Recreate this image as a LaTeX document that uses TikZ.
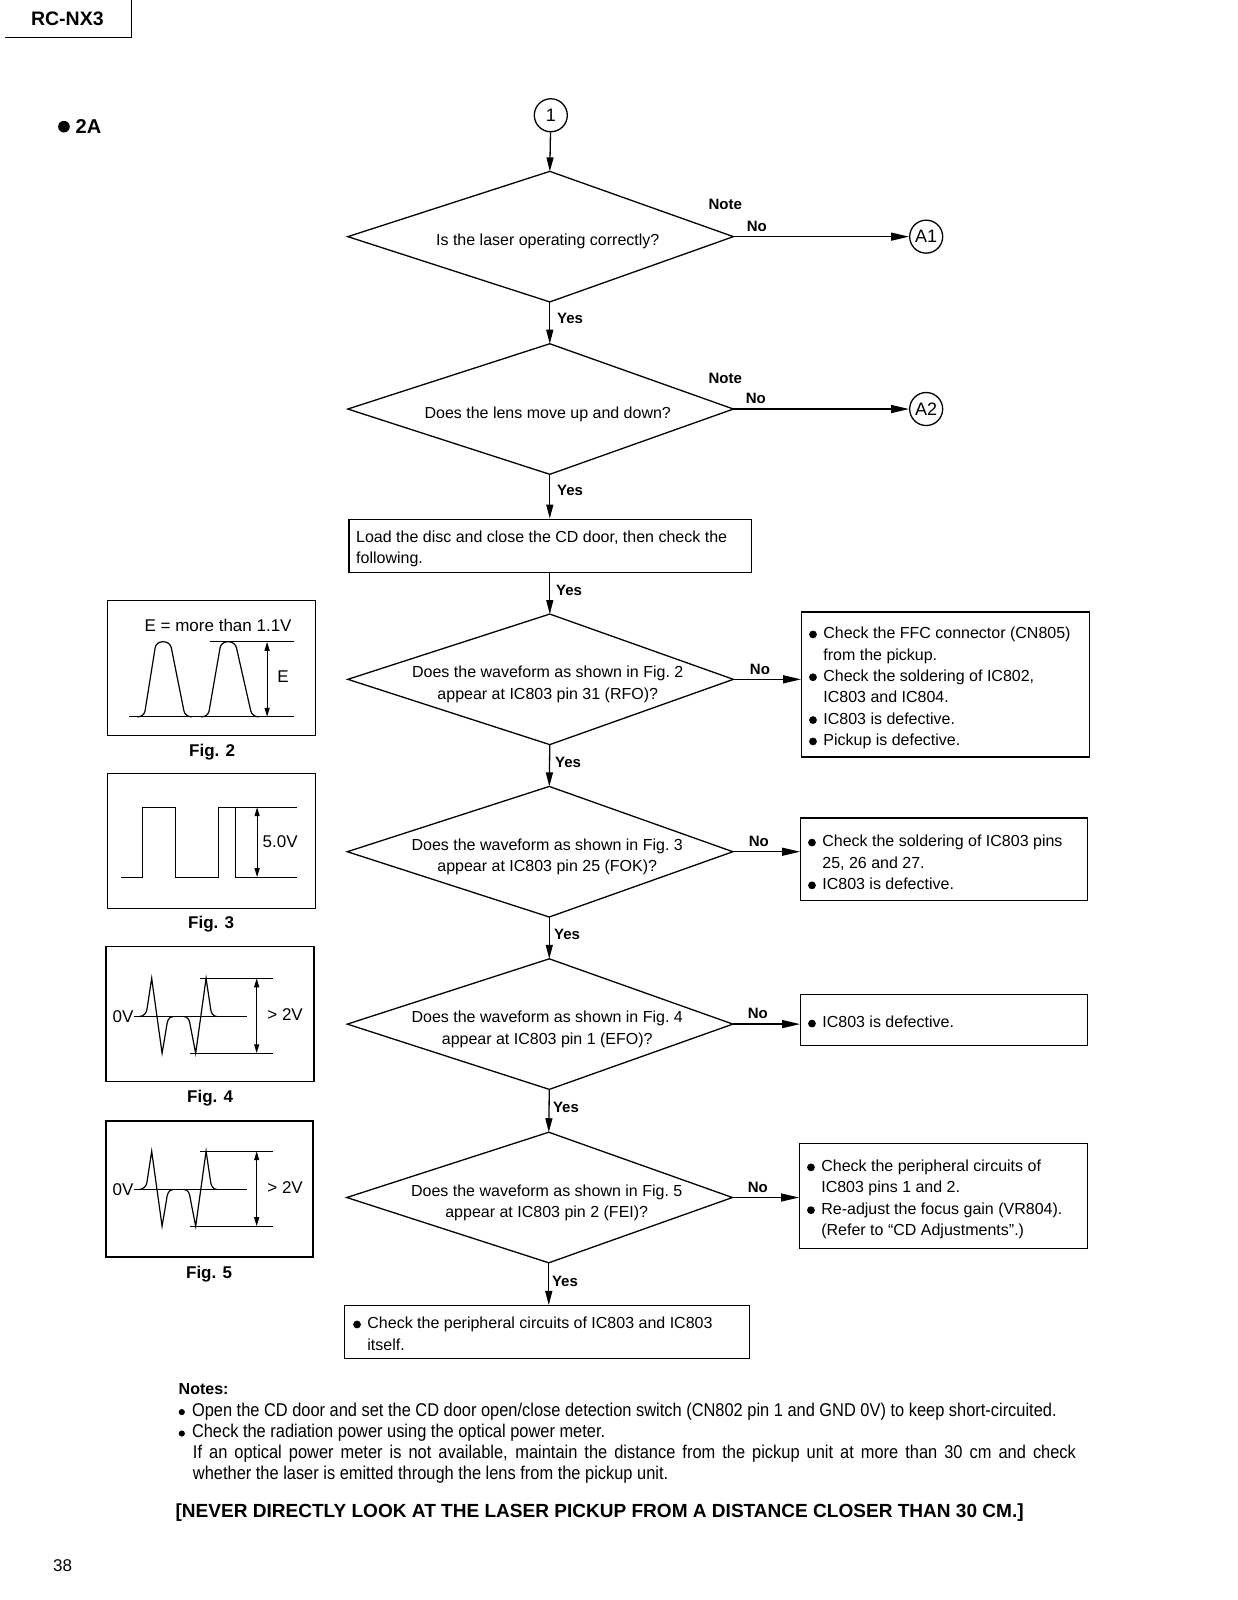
\documentclass[tikz,border=0pt]{standalone}
\usepackage{fontspec}
\usepackage{graphicx}
\setmainfont{Liberation Sans}
\newfontfamily\notef[FakeStretch=0.887]{Liberation Sans}
\usetikzlibrary{arrows.meta,fit}

\newcommand\fbul{\makebox[14.3pt][l]{\tikz[baseline=-4.2pt]\fill (3.9pt,0pt) circle (3.9pt);}}
\newcommand\hind{\hspace*{14.3pt}}
\newcommand\nbul{\makebox[13.3pt][l]{\tikz[baseline=-4.4pt]\fill (3.2pt,0pt) circle (3.1pt);}}

\newcommand\qdia[4]{%
  \coordinate (#1t) at (#2,#3-64);
  \coordinate (#1b) at (#2,#3+64);
  \coordinate (#1l) at (#2-198,#3);
  \coordinate (#1r) at (#2+180,#3);
  \draw[ln] (#1t) -- (#1r) -- (#1b) -- (#1l) -- cycle;
  \node[qtext] (#1) at (#2-2,#3+5) {#4};
}

\newcommand\bipol[1]{%
  \draw[fl] (28,70) -- (140.6,70);
  \draw[fl] (33,70) to[out=0,in=-95] (41,62) -- (45.6,31.7) -- (56,106.7) -- (60.5,80) to[out=85,in=180] (67,70);
  \draw[fl] (78,70) to[out=0,in=95] (84,78) -- (89.6,106.7) -- (100,31.7) -- (104.5,62) to[out=-85,in=180] (111,70);
  \draw[fl] (94,31.7) -- (167,31.7);
  \draw[fl] (84,106.7) -- (167,106.7);
  \draw[fl,dbl] (150.6,31.7) -- (150.6,106.7);
  \node[figtxt] (#1z) at (17,70) {0V};
  \node[figtxt] (#1v) at (179,68) {> 2V};
}

\begin{document}
\begin{tikzpicture}[x=1.02pt, y=-1.02pt,
  font=\fontsize{16}{21.4}\selectfont,
  ln/.style={line width=1.3pt},
  fl/.style={line width=1.2pt},
  dbl/.style={{Triangle[length=9pt,width=5pt]}-{Triangle[length=9pt,width=5pt]}},
  varr/.style={ln, -{Triangle[length=14pt,width=7pt]}},
  harr/.style={ln, -{Triangle[length=18pt,width=8pt]}},
  conn/.style={draw, ln, circle, minimum size=33pt, inner sep=0pt, font=\fontsize{18}{18}\selectfont},
  lab/.style={font=\bfseries\fontsize{15}{15}\selectfont, inner sep=0pt},
  qtext/.style={align=center, inner sep=0pt},
  box/.style={draw, ln, inner sep=0pt},
  btext/.style={align=left, inner sep=0pt, anchor=west},
  figlab/.style={font=\bfseries\fontsize{17}{17}\selectfont, inner sep=0pt},
  figtxt/.style={font=\fontsize{17}{17}\selectfont, inner sep=0pt},
  nline/.style={anchor=west, inner sep=0pt, font=\notef\fontsize{18.5}{20}\selectfont},
]
\fill[white] (0,0) rectangle (1213.7,1568.6);
\useasboundingbox (0,0) rectangle (1213.7,1568.6);

% header
\coordinate (hl) at (5,37);
\coordinate (hc) at (129,37);
\coordinate (ht) at (129,0);
\draw[ln] (hl) -- (hc) -- (ht);
\node[font=\bfseries\fontsize{19.5}{20}\selectfont, inner sep=0pt] (model) at (66,18.5) {RC-NX3};
\fill (62.7,124.2) circle (5.7);
\node[anchor=west, font=\bfseries\fontsize{20}{20}\selectfont, inner sep=0pt] (sec) at (74,124.5) {2A};

% main flow
\node[conn] (c1) at (540,113) {1};
\qdia{d1}{539}{232}{Is the laser operating correctly?}
\qdia{d2}{539}{401}{Does the lens move up and down?}
\node[box, fit={(342,509) (737,561)}] (b3) {};
\node[btext] (b3t) at (349,538) {Load the disc and close the CD door, then check the\\following.};
\qdia{d4}{539}{666}{Does the waveform as shown in Fig.~2\\appear at IC803 pin 31 (RFO)?}
\qdia{d5}{538.5}{835}{Does the waveform as shown in Fig.~3\\appear at IC803 pin 25 (FOK)?}
\qdia{d6}{538.5}{1004}{Does the waveform as shown in Fig.~4\\appear at IC803 pin 1 (EFO)?}
\qdia{d7}{538}{1174}{Does the waveform as shown in Fig.~5\\appear at IC803 pin 2 (FEI)?}
\node[box, fit={(338,1280) (735,1332)}] (b8) {};
\node[btext] (b8t) at (346,1307.5) {\fbul Check the peripheral circuits of IC803 and IC803\\\hind itself.};

% right side
\node[conn] (a1) at (908,232) {A1};
\node[conn] (a2) at (908,401) {A2};
\node[box, fit={(786,600) (1068,742)}] (r4) {};
\node[btext] (r4t) at (793,674.5) {\fbul Check the FFC connector (CN805)\\\hind from the pickup.\\\fbul Check the soldering of IC802,\\\hind IC803 and IC804.\\\fbul IC803 is defective.\\\fbul Pickup is defective.};
\node[box, fit={(785,802) (1066,883)}] (r5) {};
\node[btext] (r5t) at (792,845.5) {\fbul Check the soldering of IC803 pins\\\hind 25, 26 and 27.\\\fbul IC803 is defective.};
\node[box, fit={(785,975) (1066,1025)}] (r6) {};
\node[btext] (r6t) at (792,1002) {\fbul IC803 is defective.};
\node[box, fit={(784,1121) (1066,1224)}] (r7) {};
\node[btext] (r7t) at (791,1176) {\fbul Check the peripheral circuits of\\\hind IC803 pins 1 and 2.\\\fbul Re-adjust the focus gain (VR804).\\\hind (Refer to “CD Adjustments”.)};

% connectors
\draw[varr] (c1) -- (d1t);
\draw[varr] (d1b) -- (d2t);
\draw[varr] (d2b) -- (d2b |- b3.north);
\draw[varr] (d4t |- b3.south) -- (d4t);
\draw[varr] (d4b) -- (d5t);
\draw[varr] (d5b) -- (d6t);
\draw[varr] (d6b) -- (d7t);
\draw[varr] (d7b) -- (d7b |- b8.north);
\draw[harr] (d1r) -- (a1);
\draw[harr] (d2r) -- (a2);
\draw[harr] (d4r) -- (d4r -| r4.west);
\draw[harr] (d5r) -- (d5r -| r5.west);
\draw[harr] (d6r) -- (d6r -| r6.west);
\draw[harr] (d7r) -- (d7r -| r7.west);

% labels
\node[lab, anchor=west] (y1) at (546,312) {Yes};
\node[lab, anchor=west] (y2) at (546,481) {Yes};
\node[lab, anchor=west] (y3) at (545,579) {Yes};
\node[lab, anchor=west] (y4) at (544,747) {Yes};
\node[lab, anchor=west] (y5) at (543,916) {Yes};
\node[lab, anchor=west] (y6) at (542,1086) {Yes};
\node[lab, anchor=west] (y7) at (541,1256) {Yes};
\node[lab] (nt1) at (711,200) {Note};
\node[lab] (no1) at (742,222) {No};
\node[lab] (nt2) at (711,371) {Note};
\node[lab] (no2) at (741,391) {No};
\node[lab] (no4) at (745,656) {No};
\node[lab] (no5) at (744,825) {No};
\node[lab] (no6) at (743,994) {No};
\node[lab] (no7) at (743,1164) {No};

% Fig. 2
\begin{scope}[shift={(105,589)}, x=1pt, y=-1pt]
  \draw[fl] (0,0) rectangle (208,135);
  \node[figtxt] (f2t) at (111,24.5) {E = more than 1.1V};
  \draw[fl] (22,116) -- (187,116);
  \draw[fl, rounded corners=6pt] (30,116) -- (37,116) -- (49,41) -- (63,41) -- (78,116) -- (85,116);
  \draw[fl, rounded corners=6pt] (94,116) -- (101,116) -- (114,41) -- (128,41) -- (145,116) -- (152,116);
  \draw[fl] (103,41) -- (187,41);
  \draw[fl,dbl] (160,41) -- (160,116);
  \node[figtxt] (f2e) at (176,76) {E};
\end{scope}
\node[figlab] (fig2) at (208,737) {Fig. 2};

% Fig. 3
\begin{scope}[shift={(105,758)}, x=1pt, y=-1pt]
  \draw[fl] (0,0) rectangle (208,135);
  \draw[fl] (14,104) -- (35,104) -- (35,34) -- (68,34) -- (68,104) -- (111,104) -- (111,34) -- (128,34) -- (128,104) -- (190,104);
  \draw[fl] (128,34) -- (190,34);
  \draw[fl,dbl] (150,34) -- (150,104);
  \node[figtxt] (f3v) at (173,68) {5.0V};
\end{scope}
\node[figlab] (fig3) at (207,906) {Fig. 3};

% Fig. 4
\begin{scope}[shift={(104,928)}, x=1pt, y=-1pt]
  \draw[fl] (0,0) rectangle (208,135);
  \bipol{f4}
\end{scope}
\node[figlab] (fig4) at (206,1077) {Fig. 4};

% Fig. 5
\begin{scope}[shift={(104,1099)}, x=1pt, y=-1pt]
  \draw[fl] (0,0) rectangle (207,136);
  \begin{scope}[yshift=1.5pt]
    \bipol{f5}
  \end{scope}
\end{scope}
\node[figlab] (fig5) at (205,1249) {Fig. 5};

% notes
\node[anchor=west, inner sep=0pt, font=\bfseries\fontsize{16}{16}\selectfont] (notes) at (175,1362) {Notes:};
\node[nline] (n1) at (175,1384) {\nbul Open the CD door and set the CD door open/close detection switch (CN802 pin 1 and GND 0V) to keep short-circuited.};
\node[nline] (n2) at (175,1405) {\nbul Check the radiation power using the optical power meter.};
\node[nline] (n3) at (189,1425) {\makebox[883pt][s]{If an optical power meter is not available, maintain the distance from the pickup unit at more than 30 cm and check}};
\node[nline] (n4) at (189,1446) {whether the laser is emitted through the lens from the pickup unit.};
\node[anchor=west, inner sep=0pt] (warn) at (172,1483) {\resizebox{848pt}{\height}{\notef\bfseries\fontsize{19}{20}\selectfont [NEVER DIRECTLY LOOK AT THE LASER PICKUP FROM A DISTANCE CLOSER THAN 30 CM.]}};
\node[anchor=west, inner sep=0pt, font=\fontsize{17}{17}\selectfont] (pg) at (52,1535) {38};
\end{tikzpicture}
\end{document}
